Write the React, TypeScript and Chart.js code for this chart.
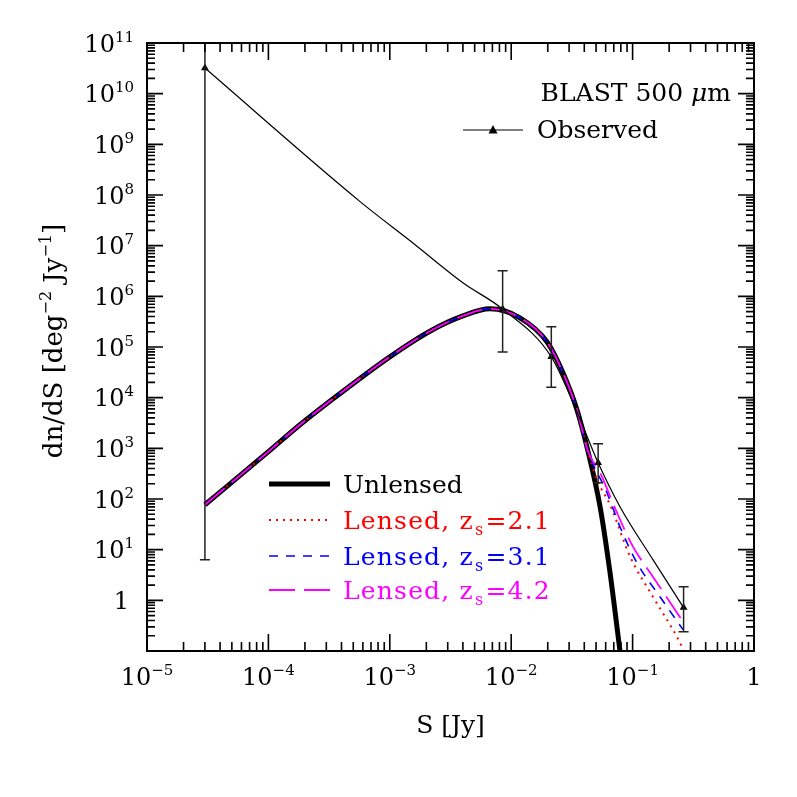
import React, { useEffect, useRef } from "react";
import { Chart, registerables } from "chart.js";

Chart.register(...registerables);

const FONT = '"DejaVu Serif", "Liberation Serif", serif';

// Shared (rising) part of the model source counts, S [Jy] and dn/dS
const modelS = [3.0e-5, 1.0e-4, 1.82e-4, 3.0e-4, 1.0e-3, 2.14e-3, 4.0e-3, 6.68e-3, 0.0118, 0.0197, 0.0267, 0.0348, 0.043];
const modelN = [77, 860, 2920, 7500, 6.4e4, 2.05e5, 4.1e5, 5.66e5, 3.77e5, 1.27e5, 3.1e4, 5770, 857];

// Bright-end tails of each model
const unlensedTailS = [0.054, 0.0652, 0.0787];
const unlensedTailN = [70, 3.5, 0.1];
const lensed21TailS = [0.0509, 0.0652, 0.0953, 0.147, 0.232, 0.265];
const lensed21TailN = [240, 77, 7.3, 1.18, 0.19, 0.1];
const lensed31TailS = [0.0615, 0.0787, 0.1086, 0.168, 0.26];
const lensed31TailN = [133, 28.4, 5.5, 1.18, 0.264];
const lensed42TailS = [0.054, 0.0743, 0.1007, 0.147, 0.215, 0.26];
const lensed42TailN = [330, 53.7, 11.5, 2.93, 0.75, 0.38];

// Observed curve (as traced) and measured points with error bars
const obsCurveS = [3.0e-5, 5.69e-4, 1.55e-3, 4.0e-3, 8.5e-3, 0.0214, 0.0348, 0.052, 0.0787, 0.147, 0.263];
const obsCurveN = [3.2e10, 7.4e7, 1.13e7, 1.85e6, 5.6e5, 6.4e4, 5270, 520, 70.5, 6.35, 0.72];
const obsS = [3.0e-5, 8.5e-3, 0.0214, 0.052, 0.263];
const obsN = [3.2e10, 5.6e5, 6.4e4, 520, 0.72];
const obsLo = [6.3, 8.0e4, 1.6e4, 210, 0.24];
const obsHi = [1.0e11, 3.2e6, 2.5e5, 1230, 1.86];

// Axis ticks (decade exponents)
const xTickExps = [-5, -4, -3, -2, -1, 0];
const yTickExps = [0, 1, 2, 3, 4, 5, 6, 7, 8, 9, 10, 11];

const legendLabels = ["Unlensed", "Lensed, z", "Lensed, z", "Lensed, z"];
const legendZ = ["", "2.1", "3.1", "4.2"];
const legendColors = ["#000000", "#ff0000", "#0000ff", "#ff00ff"];
const legendDash = [[], [2, 5], [9, 8], [26, 9]];
const legendWidth = [5, 2, 1.6, 1.8];

const pts = (s: number[], n: number[]) => s.map((v, i) => ({ x: v, y: n[i] }));

function drawPow(ctx: CanvasRenderingContext2D, base: string, exp: string, x: number, cy: number, align: string, F: number) {
  ctx.font = `${F}px ${FONT}`;
  const wb = ctx.measureText(base).width;
  const FS = Math.round(F * 0.62);
  ctx.font = `${FS}px ${FONT}`;
  const we = ctx.measureText(exp).width;
  const total = wb + we;
  let x0 = x;
  if (align === "center") x0 = x - total / 2;
  else if (align === "right") x0 = x - total;
  const baseline = cy + F * 0.36;
  ctx.textAlign = "left";
  ctx.textBaseline = "alphabetic";
  ctx.font = `${F}px ${FONT}`;
  ctx.fillText(base, x0, baseline);
  ctx.font = `${FS}px ${FONT}`;
  ctx.fillText(exp, x0 + wb, baseline - F * 0.42);
}

const decoPlugin = {
  id: "deco",
  afterDatasetsDraw(chart: any) {
    const ctx: CanvasRenderingContext2D = chart.ctx;
    const xs = chart.scales.x;
    const ys = chart.scales.y;
    const { left, right, top, bottom } = chart.chartArea;
    ctx.save();

    // error bars
    ctx.save();
    ctx.beginPath();
    ctx.rect(left, top, right - left, bottom - top);
    ctx.clip();
    ctx.strokeStyle = "#222";
    ctx.lineWidth = 1.5;
    obsS.forEach((s, i) => {
      const px = xs.getPixelForValue(s);
      const y1 = ys.getPixelForValue(obsLo[i]);
      const y2 = ys.getPixelForValue(obsHi[i]);
      ctx.beginPath();
      ctx.moveTo(px, y1);
      ctx.lineTo(px, y2);
      ctx.moveTo(px - 5, y1);
      ctx.lineTo(px + 5, y1);
      ctx.moveTo(px - 5, y2);
      ctx.lineTo(px + 5, y2);
      ctx.stroke();
    });
    ctx.restore();

    // frame
    ctx.strokeStyle = "#000";
    ctx.lineWidth = 2;
    ctx.strokeRect(left, top, right - left, bottom - top);

    // ticks
    ctx.lineWidth = 1.6;
    ctx.beginPath();
    for (let e = -5; e <= 0; e++) {
      const px = xs.getPixelForValue(Math.pow(10, e));
      ctx.moveTo(px, bottom); ctx.lineTo(px, bottom - 17);
      ctx.moveTo(px, top); ctx.lineTo(px, top + 17);
      if (e < 0) {
        for (let m = 2; m <= 9; m++) {
          const qx = xs.getPixelForValue(m * Math.pow(10, e));
          ctx.moveTo(qx, bottom); ctx.lineTo(qx, bottom - 9);
          ctx.moveTo(qx, top); ctx.lineTo(qx, top + 9);
        }
      }
    }
    for (let e = -1; e <= 11; e++) {
      const py = ys.getPixelForValue(Math.pow(10, e));
      ctx.moveTo(left, py); ctx.lineTo(left + 16, py);
      ctx.moveTo(right, py); ctx.lineTo(right - 16, py);
      if (e < 11) {
        for (let m = 2; m <= 9; m++) {
          const qy = ys.getPixelForValue(m * Math.pow(10, e));
          ctx.moveTo(left, qy); ctx.lineTo(left + 8, qy);
          ctx.moveTo(right, qy); ctx.lineTo(right - 8, qy);
        }
      }
    }
    ctx.stroke();

    // tick labels
    ctx.fillStyle = "#000";
    const F = 24;
    xTickExps.forEach((e) => {
      const px = xs.getPixelForValue(Math.pow(10, e));
      if (e === 0) {
        ctx.font = `${F}px ${FONT}`;
        ctx.textAlign = "center";
        ctx.textBaseline = "alphabetic";
        ctx.fillText("1", px, 676 + F * 0.36);
      } else {
        drawPow(ctx, "10", "\u2212" + Math.abs(e), px, 676, "center", F);
      }
    });
    yTickExps.forEach((e) => {
      const py = ys.getPixelForValue(Math.pow(10, e));
      if (e === 0) {
        ctx.font = `${F}px ${FONT}`;
        ctx.textAlign = "right";
        ctx.textBaseline = "alphabetic";
        ctx.fillText("1", 129, py + F * 0.36);
      } else {
        drawPow(ctx, "10", String(e), 134, py, "right", F);
      }
    });

    // axis titles
    const FL = 25;
    ctx.font = `${FL}px ${FONT}`;
    ctx.textAlign = "center";
    ctx.textBaseline = "alphabetic";
    ctx.fillText("S [Jy]", (left + right) / 2, 733);

    ctx.save();
    ctx.translate(62, 341);
    ctx.rotate(-Math.PI / 2);
    const FT = 26;
    const parts: [string, boolean][] = [["dn/dS [deg", false], ["\u22122", true], [" Jy", false], ["\u22121", true], ["]", false]];
    const FTS = Math.round(FT * 0.62);
    let total = 0;
    parts.forEach(([t, sup]) => {
      ctx.font = `${sup ? FTS : FT}px ${FONT}`;
      total += ctx.measureText(t).width;
    });
    let cx = -total / 2;
    ctx.textAlign = "left";
    parts.forEach(([t, sup]) => {
      ctx.font = `${sup ? FTS : FT}px ${FONT}`;
      ctx.fillText(t, cx, sup ? -FT * 0.42 : 0);
      cx += ctx.measureText(t).width;
    });
    ctx.restore();

    // top-right legend
    ctx.font = `${FL}px ${FONT}`;
    const wA = ctx.measureText("BLAST 500 ").width;
    ctx.font = `italic ${FL}px ${FONT}`;
    const wMu = ctx.measureText("\u03bc").width;
    ctx.font = `${FL}px ${FONT}`;
    const wM = ctx.measureText("m").width;
    const tx = 731 - (wA + wMu + wM);
    ctx.textAlign = "left";
    ctx.fillText("BLAST 500 ", tx, 101);
    ctx.font = `italic ${FL}px ${FONT}`;
    ctx.fillText("\u03bc", tx + wA, 101);
    ctx.font = `${FL}px ${FONT}`;
    ctx.fillText("m", tx + wA + wMu, 101);

    ctx.strokeStyle = "#000";
    ctx.lineWidth = 1.2;
    ctx.beginPath();
    ctx.moveTo(463, 130);
    ctx.lineTo(523, 130);
    ctx.stroke();
    ctx.beginPath();
    ctx.moveTo(493, 125);
    ctx.lineTo(488.5, 133.5);
    ctx.lineTo(497.5, 133.5);
    ctx.closePath();
    ctx.fill();
    ctx.fillText("Observed", 537, 138);

    // lower-left legend
    const FS = Math.round(FL * 0.62);
    const rowsY = [484, 520, 556, 590];
    legendLabels.forEach((lab, i) => {
      const y = rowsY[i];
      ctx.strokeStyle = legendColors[i];
      ctx.lineWidth = legendWidth[i];
      ctx.setLineDash(legendDash[i]);
      ctx.beginPath();
      ctx.moveTo(269, y);
      ctx.lineTo(330, y);
      ctx.stroke();
      ctx.setLineDash([]);
      ctx.fillStyle = legendColors[i];
      ctx.font = `${FL}px ${FONT}`;
      const base = y + 9;
      (ctx as any).letterSpacing = i > 0 ? "1.2px" : "0px";
      ctx.fillText(lab, 343, base);
      if (legendZ[i]) {
        let x2 = 343 + ctx.measureText(lab).width + 1;
        ctx.font = `${FS}px ${FONT}`;
        ctx.fillText("s", x2, base + FL * 0.22);
        x2 += ctx.measureText("s").width + 1;
        ctx.font = `${FL}px ${FONT}`;
        ctx.fillText("=" + legendZ[i], x2, base);
      }
      (ctx as any).letterSpacing = "0px";
    });
    ctx.restore();
  },
};

export default function App() {
  const ref = useRef<HTMLCanvasElement | null>(null);
  useEffect(() => {
    if (!ref.current) return;
    const common = { pointRadius: 0, fill: false, cubicInterpolationMode: "monotone" as const, clip: 0 };
    const chart = new Chart(ref.current, {
      type: "line",
      data: {
        datasets: [
          { ...common, label: "Observed", data: pts(obsCurveS, obsCurveN), borderColor: "#000", borderWidth: 1.2, order: 0 },
          { label: "Observed points", data: pts(obsS, obsN), showLine: false, pointStyle: "triangle", pointRadius: 4.5, pointBackgroundColor: "#000", pointBorderColor: "#000", pointBorderWidth: 0, order: 0, clip: 0 } as any,
          { ...common, label: "Lensed 4.2", data: pts([...modelS, ...lensed42TailS], [...modelN, ...lensed42TailN]), borderColor: "#ff00ff", borderWidth: 1.8, borderDash: [26, 9], order: 1 },
          { ...common, label: "Lensed 3.1", data: pts([...modelS, ...lensed31TailS], [...modelN, ...lensed31TailN]), borderColor: "#0000ff", borderWidth: 1.6, borderDash: [9, 8], order: 2 },
          { ...common, label: "Lensed 2.1", data: pts([...modelS, ...lensed21TailS], [...modelN, ...lensed21TailN]), borderColor: "#ff0000", borderWidth: 2, borderDash: [2, 5], order: 3 },
          { ...common, label: "Unlensed", data: pts([...modelS, ...unlensedTailS], [...modelN, ...unlensedTailN]), borderColor: "#000", borderWidth: 5, order: 4 },
        ] as any,
      },
      options: {
        responsive: false,
        animation: false,
        devicePixelRatio: 1,
        events: [],
        layout: { padding: { left: 147, top: 43, right: 43, bottom: 146 } },
        scales: {
          x: { type: "logarithmic", min: 1e-5, max: 1, display: false },
          y: { type: "logarithmic", min: 0.1, max: 1e11, display: false },
        },
        plugins: { legend: { display: false }, tooltip: { enabled: false } },
      } as any,
      plugins: [decoPlugin],
    });
    return () => chart.destroy();
  }, []);
  return (
    <div style={{ position: "absolute", left: 0, top: 0, width: 797, height: 797, background: "#fff" }}>
      <canvas ref={ref} width={797} height={797} style={{ width: 797, height: 797 }} />
    </div>
  );
}
